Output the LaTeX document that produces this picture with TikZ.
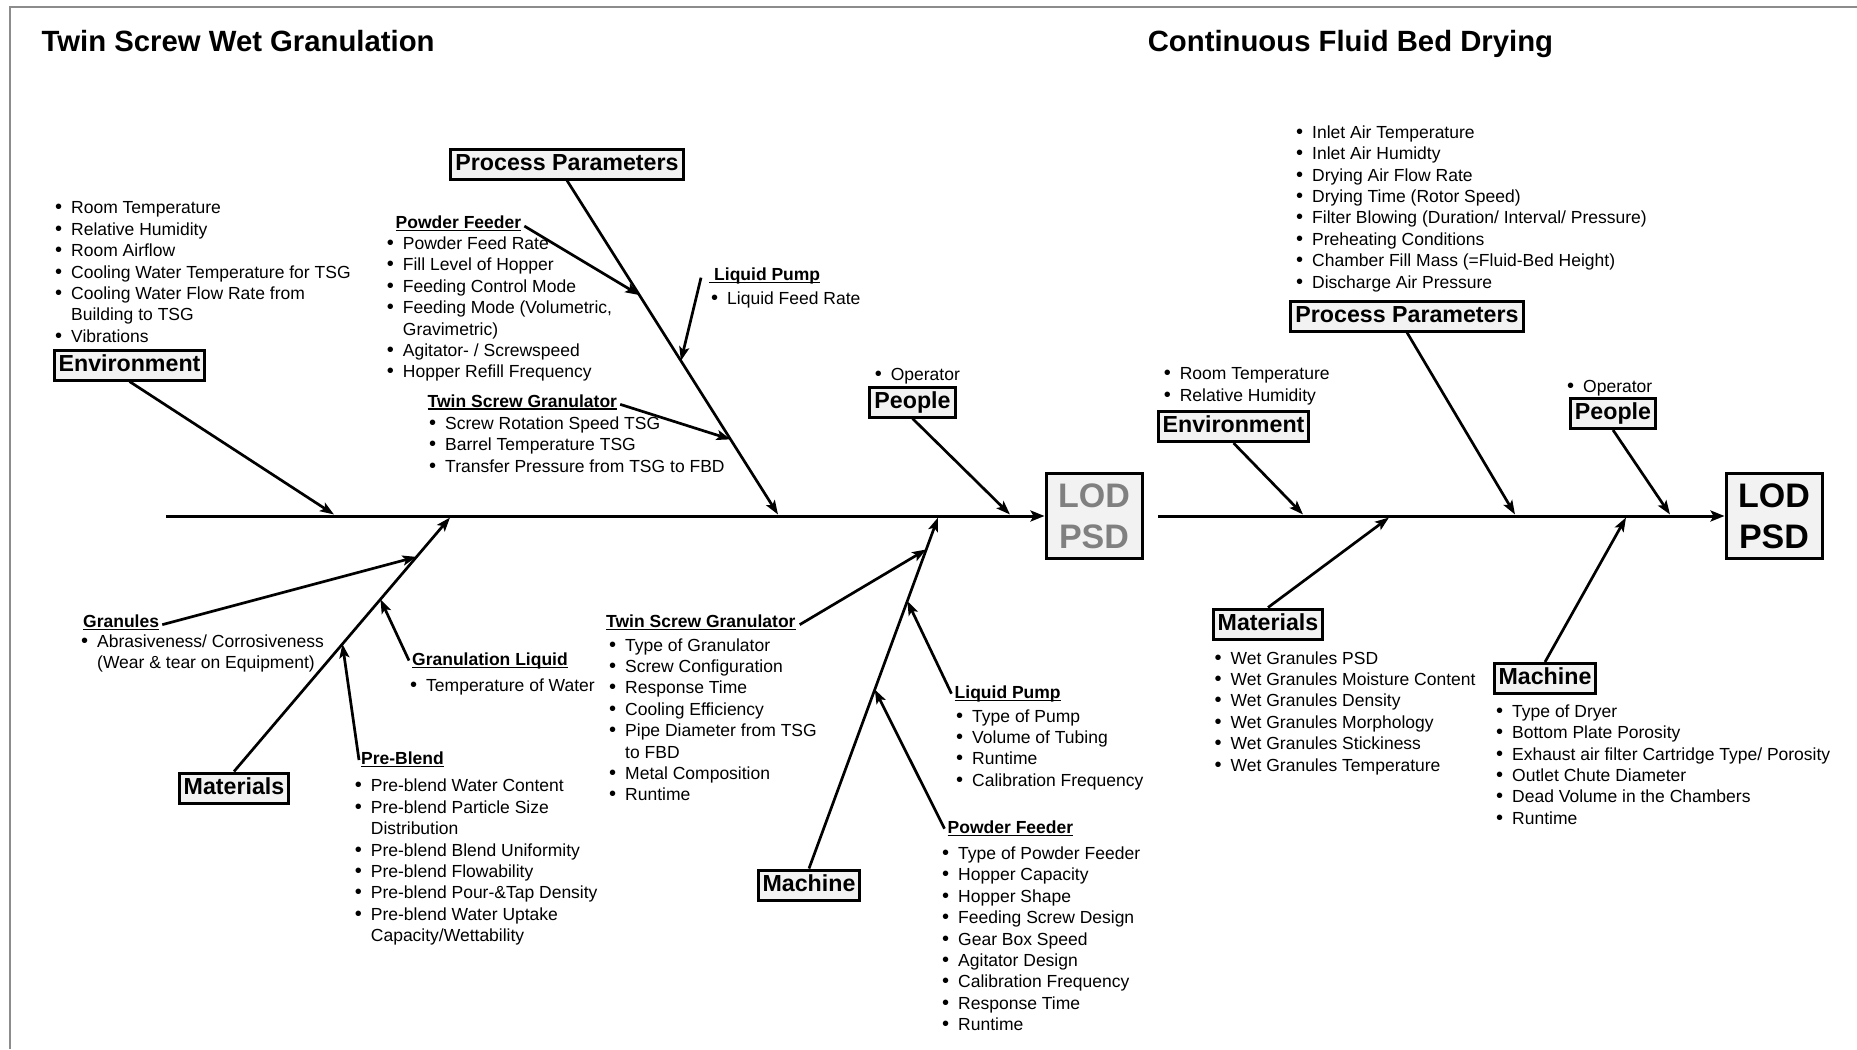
\documentclass[tikz,border=0pt]{standalone}
\usepackage{fontspec}
\setmainfont{Liberation Sans}
\usetikzlibrary{arrows.meta,calc}

\definecolor{boxfill}{RGB}{242,242,242}
\definecolor{framegray}{RGB}{140,140,140}
\definecolor{lodgray}{RGB}{128,128,128}

\newcommand\bu{\makebox[14pt][l]{\hspace*{-2pt}\scalebox{1.15}{•}}}
\newcommand\cn{\hspace*{14pt}}
\newcommand\ulx[1]{\setbox0\hbox{#1}\rlap{\rule[-2.6pt]{\wd0}{1.3pt}}\box0}

\tikzset{
  cat/.style={draw, line width=3pt, fill=boxfill, font=\fontsize{23.2}{27}\selectfont\bfseries,
    inner xsep=4.5pt, inner ysep=4.5pt, text height=16.5pt, text depth=4.5pt},
  lod/.style={draw, line width=3pt, fill=boxfill, font=\fontsize{34}{41}\selectfont\bfseries,
    minimum width=96pt, minimum height=85pt, align=center, inner sep=0pt},
  lst/.style={anchor=base west, inner sep=0pt, yshift=-1.2pt, font=\fontsize{17.5}{21.4}\selectfont},
  hdr/.style={anchor=base west, inner sep=0pt, yshift=-1.2pt, font=\fontsize{17.5}{21.4}\selectfont\bfseries},
  ttl/.style={anchor=base west, inner sep=0pt, font=\fontsize{29.3}{34}\selectfont\bfseries},
  arr/.style={line width=2.7pt, -{Stealth[length=14pt,width=10pt,inset=3pt]}},
  spine/.style={line width=3pt, -{Stealth[length=14pt,width=11pt,inset=3pt]}},
}

\begin{document}
\begin{tikzpicture}[x=1pt,y=-1pt]
\useasboundingbox (0,0) rectangle (1857,1049);
\draw[framegray, line width=2pt] (10,1049) -- (10,7) -- (1857,7);

% titles
\node[ttl] (t1) at (41.5,52) {Twin Screw Wet Granulation};
\node[ttl] (t2) at (1147.6,52) {Continuous Fluid Bed Drying};

% ================= LEFT =================
\node[lod, text=lodgray] (lodL) at (1094,516) {LOD\\PSD};
\coordinate (sL) at (166,516);
\draw[spine] (sL) -- (lodL.west);

\node[cat] (envL) at (129.5,365) {Environment};
\node[cat] (ppL) at (567,164) {Process Parameters};
\node[cat] (peoL) at (912.5,402) {People};
\node[cat] (matL) at (234,788) {Materials};
\node[cat] (macL) at (809,885) {Machine};

\coordinate (eL) at (334,514.5);
\coordinate (pL) at (778,514.5);
\coordinate (qL) at (1010,514.5);
\coordinate (mL) at (450,517.5);
\coordinate (kL) at (938,517.5);

\draw[arr] (envL.south) -- (eL);
\draw[arr] (ppL.south) -- (pL);
\draw[arr] (peoL.south) -- (qL);
\draw[arr] (matL.north) -- (mL);
\draw[arr] (macL.north) -- (kL);

\coordinate (ppa) at ($(ppL.south)!0.343!(pL)$);
\coordinate (ppb) at ($(ppL.south)!0.540!(pL)$);
\coordinate (ppc) at ($(ppL.south)!0.775!(pL)$);
\coordinate (ma) at ($(matL.north)!0.845!(mL)$);
\coordinate (mb) at ($(matL.north)!0.678!(mL)$);
\coordinate (mc) at ($(matL.north)!0.502!(mL)$);
\coordinate (ka) at ($(macL.north)!0.909!(kL)$);
\coordinate (kb) at ($(macL.north)!0.762!(kL)$);
\coordinate (kc) at ($(macL.north)!0.510!(kL)$);

\node[lst] (envLi) at (57,212.7) {\begin{tabular}[t]{@{}l@{}}
\bu Room Temperature\\ \bu Relative Humidity\\ \bu Room Airflow\\
\bu Cooling Water Temperature for TSG\\ \bu Cooling Water Flow Rate from\\
\cn Building to TSG\\ \bu Vibrations\end{tabular}};

\node[hdr] (pfT) at (395.5,227.5) {\ulx{Powder Feeder}};
\node[lst] (pfTi) at (388.7,248.3) {\begin{tabular}[t]{@{}l@{}}
\bu Powder Feed Rate\\ \bu Fill Level of Hopper\\ \bu Feeding Control Mode\\
\bu Feeding Mode (Volumetric,\\ \cn Gravimetric)\\ \bu Agitator- / Screwspeed\\
\bu Hopper Refill Frequency\end{tabular}};
\draw[arr] ([xshift=3pt]pfT.mid east) -- (ppa);

\node[hdr] (lpT) at (709,279.1) {\ulx{\hspace*{5pt}Liquid Pump}};
\node[lst] (lpTi) at (713,302.8) {\bu Liquid Feed Rate};
\draw[arr] ([xshift=-8pt]lpT.mid west) -- (ppb);

\node[hdr] (tsgT) at (427.5,405.8) {\ulx{Twin Screw Granulator}};
\node[lst] (tsgTi) at (431,428.3) {\begin{tabular}[t]{@{}l@{}}
\bu Screw Rotation Speed TSG\\ \bu Barrel Temperature TSG\\
\bu Transfer Pressure from TSG to FBD\end{tabular}};
\draw[arr] ([xshift=3pt]tsgT.mid east) -- (ppc);

\node[lst] (opL) at (876.6,379.7) {\bu Operator};

\node[hdr] (grH) at (83,626.1) {\ulx{Granules}};
\node[lst] (grHi) at (83,646.2) {\begin{tabular}[t]{@{}l@{}}
\bu Abrasiveness/ Corrosiveness\\ \cn (Wear \& tear on Equipment)\end{tabular}};
\draw[arr] ([xshift=3pt]grH.mid east) -- (ma);

\node[hdr] (glH) at (412,664) {\ulx{Granulation Liquid}};
\node[lst] (glHi) at (412,690) {\bu Temperature of Water};
\draw[arr] ([xshift=-3pt,yshift=2pt]glH.mid west) -- (mb);

\node[hdr] (pbH) at (361,763.5) {\ulx{Pre-Blend}};
\node[lst] (pbHi) at (356.7,790.7) {\begin{tabular}[t]{@{}l@{}}
\bu Pre-blend Water Content\\ \bu Pre-blend Particle Size\\ \cn Distribution\\
\bu Pre-blend Blend Uniformity\\ \bu Pre-blend Flowability\\
\bu Pre-blend Pour-\&Tap Density\\ \bu Pre-blend Water Uptake\\
\cn Capacity/Wettability\end{tabular}};
\draw[arr] ([xshift=-2pt,yshift=2pt]pbH.mid west) -- (mc);

\node[hdr] (tsgB) at (606,626.1) {\ulx{Twin Screw Granulator}};
\node[lst] (tsgBi) at (611,649.8) {\begin{tabular}[t]{@{}l@{}}
\bu Type of Granulator\\ \bu Screw Configuration\\ \bu Response Time\\
\bu Cooling Efficiency\\ \bu Pipe Diameter from TSG\\ \cn to FBD\\
\bu Metal Composition\\ \bu Runtime\end{tabular}};
\draw[arr] ([xshift=4pt]tsgB.mid east) -- (ka);

\node[hdr] (lpB) at (954.5,697.1) {\ulx{Liquid Pump}};
\node[lst] (lpBi) at (958,720.8) {\begin{tabular}[t]{@{}l@{}}
\bu Type of Pump\\ \bu Volume of Tubing\\ \bu Runtime\\
\bu Calibration Frequency\end{tabular}};
\draw[arr] ([xshift=-3pt,yshift=2pt]lpB.mid west) -- (kb);

\node[hdr] (pfB) at (947.5,832.1) {\ulx{Powder Feeder}};
\node[lst] (pfBi) at (944,858.2) {\begin{tabular}[t]{@{}l@{}}
\bu Type of Powder Feeder\\ \bu Hopper Capacity\\ \bu Hopper Shape\\
\bu Feeding Screw Design\\ \bu Gear Box Speed\\ \bu Agitator Design\\
\bu Calibration Frequency\\ \bu Response Time\\ \bu Runtime\end{tabular}};
\draw[arr] ([xshift=-3pt,yshift=2pt]pfB.mid west) -- (kc);

% ================= RIGHT =================
\node[lod] (lodR) at (1774,516) {LOD\\PSD};
\coordinate (sR) at (1158,516);
\draw[spine] (sR) -- (lodR.west);

\node[cat] (envR) at (1233.5,426.5) {Environment};
\node[cat] (ppR) at (1407,316) {Process Parameters};
\node[cat] (peoR) at (1613,413.5) {People};
\node[cat] (matR) at (1268,624) {Materials};
\node[cat] (macR) at (1545,678.5) {Machine};

\coordinate (eR) at (1303,514.5);
\coordinate (pR) at (1515,514.5);
\coordinate (qR) at (1670,514.5);
\coordinate (mR) at (1389,517.5);
\coordinate (kR) at (1626,517.5);

\draw[arr] (envR.south) -- (eR);
\draw[arr] (ppR.south) -- (pR);
\draw[arr] (peoR.south) -- (qR);
\draw[arr] (matR.north) -- (mR);
\draw[arr] (macR.north) -- (kR);

\node[lst] (envRi) at (1165.6,378.5) {\begin{tabular}[t]{@{}l@{}}
\bu Room Temperature\\ \bu Relative Humidity\end{tabular}};

\node[lst] (ppRi) at (1298,137) {\begin{tabular}[t]{@{}l@{}}
\bu Inlet Air Temperature\\ \bu Inlet Air Humidty\\ \bu Drying Air Flow Rate\\
\bu Drying Time (Rotor Speed)\\ \bu Filter Blowing (Duration/ Interval/ Pressure)\\
\bu Preheating Conditions\\ \bu Chamber Fill Mass (=Fluid-Bed Height)\\
\bu Discharge Air Pressure\end{tabular}};

\node[lst] (opR) at (1569,391.5) {\bu Operator};

\node[lst] (matRi) at (1216.5,662.8) {\begin{tabular}[t]{@{}l@{}}
\bu Wet Granules PSD\\ \bu Wet Granules Moisture Content\\ \bu Wet Granules Density\\
\bu Wet Granules Morphology\\ \bu Wet Granules Stickiness\\
\bu Wet Granules Temperature\end{tabular}};

\node[lst] (macRi) at (1498,716) {\begin{tabular}[t]{@{}l@{}}
\bu Type of Dryer\\ \bu Bottom Plate Porosity\\
\bu Exhaust air filter Cartridge Type/ Porosity\\ \bu Outlet Chute Diameter\\
\bu Dead Volume in the Chambers\\ \bu Runtime\end{tabular}};
\end{tikzpicture}
\end{document}
